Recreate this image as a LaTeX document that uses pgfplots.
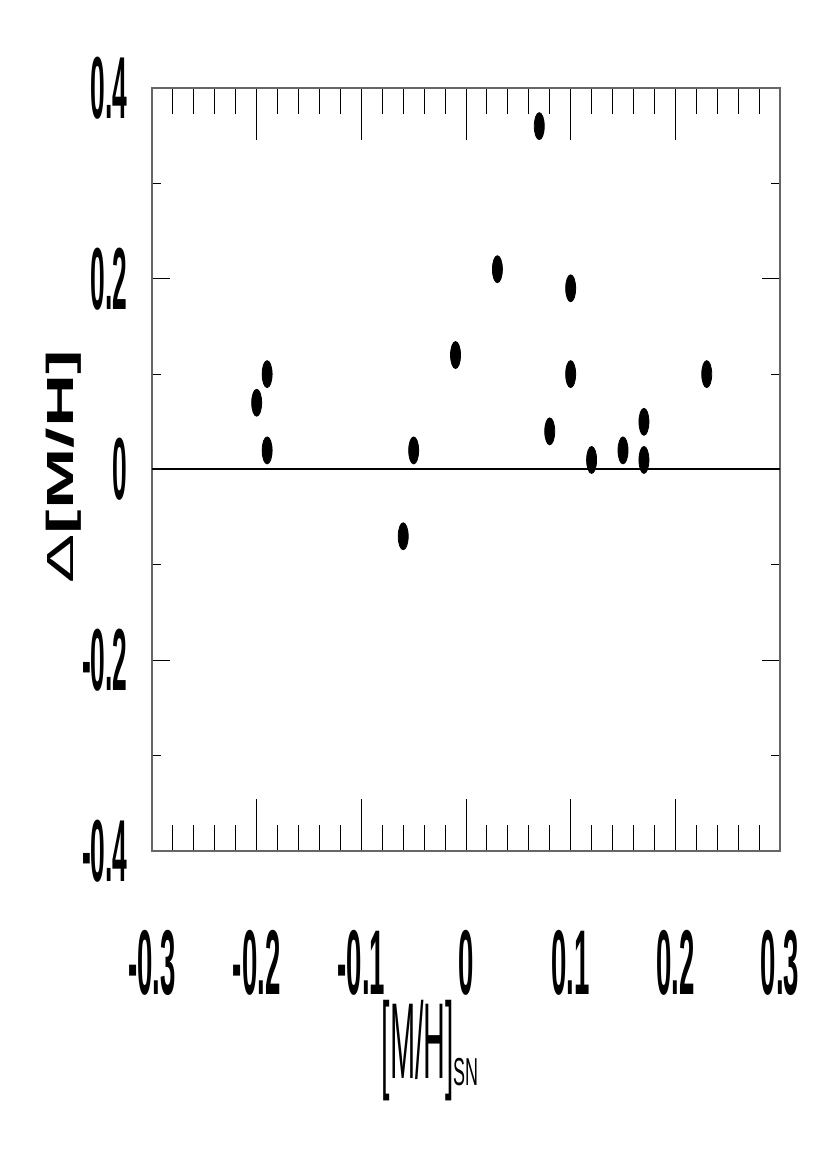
\documentclass[border=0pt]{standalone}
\usepackage{fontspec}
\usepackage{graphicx}
\usepackage{pgfplots}
\pgfplotsset{compat=1.18}
\setmainfont{Liberation Sans}
% the original figure is squeezed sideways, so the text is set in stretched fonts
\newfontfamily\tickf[FakeStretch=0.30]{Liberation Sans}
\newfontfamily\labf[FakeStretch=0.28]{Liberation Sans}
\newfontfamily\subf[FakeStretch=0.46]{Liberation Sans}
\newfontfamily\ylabf[FakeStretch=1.95]{Liberation Sans}

\begin{document}
\begin{tikzpicture}
\useasboundingbox (-76pt,-159.5pt) rectangle (337.5pt,425.5pt);
\begin{axis}[
  scale only axis,
  width=314pt, height=381.5pt,
  xmin=-0.3, xmax=0.3,
  ymin=-0.4, ymax=0.4,
  clip=false,
  axis x line=box, axis y line=box,
  x axis line style={black, line width=1pt},
  y axis line style={black!60, line width=0.7pt},
  xtick={-0.3,-0.2,-0.1,0,0.1,0.2,0.3},
  xticklabels={-0.3,-0.2,-0.1,0,0.1,0.2,0.3},
  minor x tick num=4,
  ytick={-0.4,-0.2,0,0.2,0.4},
  yticklabels={-0.4,-0.2,0,0.2,0.4},
  minor y tick num=1,
  xtick style={black, line width=0.5pt,
    /pgfplots/major tick length=26pt, /pgfplots/minor tick length=13pt},
  ytick style={black, line width=0.5pt,
    /pgfplots/major tick length=9pt, /pgfplots/minor tick length=4.5pt},
  xticklabel style={font=\tickf\bfseries\fontsize{46pt}{46pt}\selectfont,
    anchor=north, inner sep=0pt, yshift=-39.5pt},
  yticklabel style={font=\tickf\bfseries\fontsize{44pt}{44pt}\selectfont,
    anchor=east, inner sep=0pt, xshift=-12pt},
]
\addplot[black, line width=1pt, mark=none] coordinates {(-0.3,0) (0.3,0)};
\addplot[only marks, mark=*, black, mark size=6.75pt,
  mark options={xscale=0.37, fill=black}] coordinates {
  (-0.20,0.07) (-0.19,0.10) (-0.19,0.02) (-0.06,-0.07) (-0.05,0.02)
  (-0.01,0.12) (0.03,0.21) (0.07,0.36) (0.08,0.04) (0.10,0.19)
  (0.10,0.10) (0.12,0.01) (0.15,0.02) (0.17,0.05) (0.17,0.01)
  (0.23,0.10)
};
\node[anchor=north west, inner sep=0pt] at ([yshift=-74.5pt]axis cs:-0.081,-0.4)
  {\labf\fontsize{54pt}{54pt}\selectfont [M/H]\raisebox{-3.5pt}{\subf\fontsize{19.5pt}{19.5pt}\selectfont SN}};
\node[rotate=90, anchor=base, inner sep=0pt] at ([xshift=-39pt]axis cs:-0.3,0.003)
  {\ylabf\fontsize{18.9pt}{18.9pt}\selectfont Δ\bfseries[M/H]};
\end{axis}
\end{tikzpicture}
\end{document}
